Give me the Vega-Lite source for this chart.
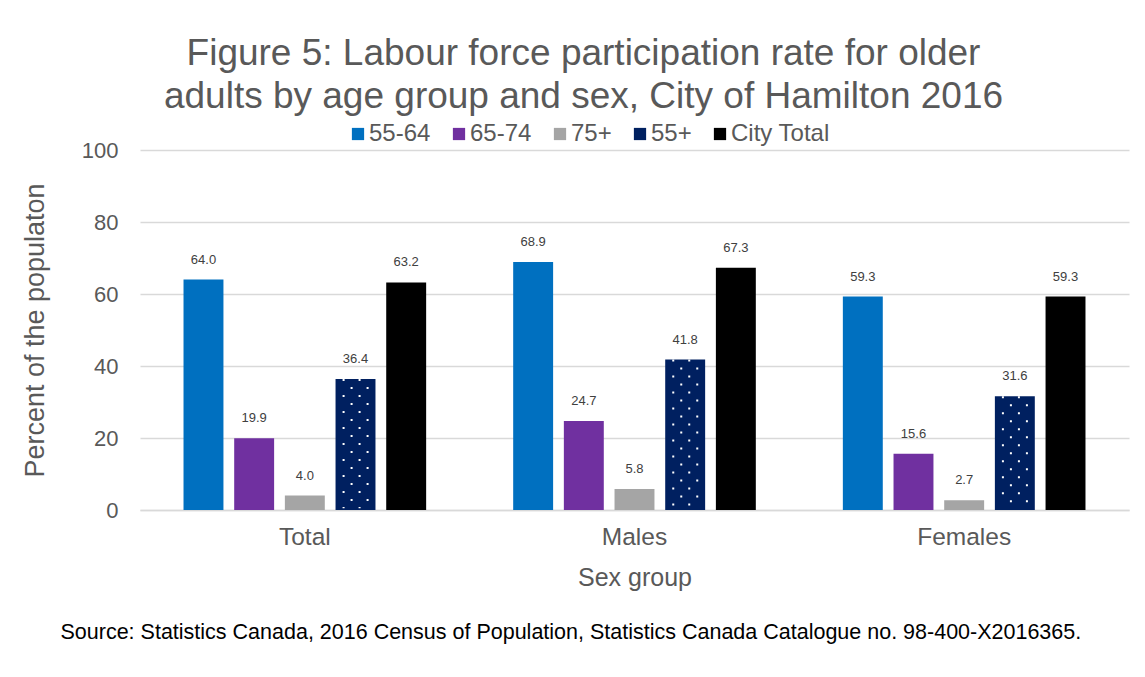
{
  "$schema": "https://vega.github.io/schema/vega-lite/v6.json",
  "width": 989,
  "height": 360,
  "autosize": {"type": "none"},
  "padding": {"left": 140, "top": 150, "right": 16, "bottom": 167},
  "background": "white",
  "config": {
    "font": "Liberation Sans",
    "view": {"stroke": null},
    "axis": {"labelFont": "Liberation Sans", "titleFont": "Liberation Sans", "labelColor": "#595959", "titleColor": "#595959", "titleFontWeight": "normal"}
  },
  "title": {
    "text": ["Figure 5: Labour force participation rate for older", "adults by age group and sex, City of Hamilton 2016"],
    "fontSize": 37,
    "font": "Liberation Sans",
    "fontWeight": "normal",
    "color": "#595959",
    "lineHeight": 43,
    "anchor": "middle",
    "dx": -51,
    "offset": 6
  },
  "data": {
    "values": [
      {"group": "Total", "age": "55-64", "value": 64.0},
      {"group": "Total", "age": "65-74", "value": 19.9},
      {"group": "Total", "age": "75+", "value": 4.0},
      {"group": "Total", "age": "55+", "value": 36.4},
      {"group": "Total", "age": "City Total", "value": 63.2},
      {"group": "Males", "age": "55-64", "value": 68.9},
      {"group": "Males", "age": "65-74", "value": 24.7},
      {"group": "Males", "age": "75+", "value": 5.8},
      {"group": "Males", "age": "55+", "value": 41.8},
      {"group": "Males", "age": "City Total", "value": 67.3},
      {"group": "Females", "age": "55-64", "value": 59.3},
      {"group": "Females", "age": "65-74", "value": 15.6},
      {"group": "Females", "age": "75+", "value": 2.7},
      {"group": "Females", "age": "55+", "value": 31.6},
      {"group": "Females", "age": "City Total", "value": 59.3}
    ]
  },
  "resolve": {"axis": {"x": "independent"}},
  "layer": [
    {
      "mark": {"type": "bar"},
      "encoding": {
        "x": {
          "field": "group", "type": "nominal", "sort": ["Total", "Males", "Females"],
          "scale": {"paddingInner": 0.264, "paddingOuter": 0.132},
          "axis": {"orient": "bottom", "title": "Sex group", "titleFontSize": 25, "titlePadding": 17, "labelFontSize": 24.5, "labelPadding": 15, "labelAngle": 0, "ticks": false, "domainColor": "#d9d9d9", "domainWidth": 1.5}
        },
        "xOffset": {
          "field": "age", "type": "nominal", "sort": ["55-64", "65-74", "75+", "55+", "City Total"],
          "scale": {"paddingInner": 0.212, "paddingOuter": 0}
        },
        "y": {
          "field": "value", "type": "quantitative",
          "scale": {"domain": [0, 100], "nice": false},
          "axis": {"title": "Percent of the populaton", "titleFontSize": 27, "titlePadding": 32, "values": [0, 20, 40, 60, 80, 100], "labelFontSize": 22, "labelPadding": 22, "ticks": false, "domain": false, "gridColor": "#d9d9d9", "gridWidth": 1.5}
        },
        "color": {
          "field": "age", "type": "nominal",
          "scale": {"domain": ["55-64", "65-74", "75+", "55+", "City Total"], "range": ["#0070C0", "#7030A0", "#A5A5A5", "#002060", "#000000"]},
          "legend": {"title": null, "orient": "none", "direction": "horizontal", "legendX": 206, "legendY": -28, "symbolType": "square", "symbolSize": 150, "symbolStrokeWidth": 0, "labelFontSize": 24, "labelColor": "#595959", "labelFont": "Liberation Sans", "columnPadding": 16, "labelOffset": -1}
        }
      }
    },
    {
      "transform": [{"filter": "datum.age === '55+'"}],
      "mark": {"type": "rule", "color": "white", "strokeWidth": 2, "strokeDash": [2, 14], "xOffset": 38.75, "strokeDashOffset": 0},
      "encoding": {
        "x": {"field": "group", "type": "nominal", "sort": ["Total", "Males", "Females"], "axis": null},
        "y": {"field": "value", "type": "quantitative", "title": "Percent of the populaton"},
        "y2": {"datum": 0.5}
      }
    },
    {
      "transform": [{"filter": "datum.age === '55+'"}],
      "mark": {"type": "rule", "color": "white", "strokeWidth": 2, "strokeDash": [2, 14], "xOffset": 46.75, "strokeDashOffset": 8},
      "encoding": {
        "x": {"field": "group", "type": "nominal", "sort": ["Total", "Males", "Females"], "axis": null},
        "y": {"field": "value", "type": "quantitative", "title": "Percent of the populaton"},
        "y2": {"datum": 0.5}
      }
    },
    {
      "transform": [{"filter": "datum.age === '55+'"}],
      "mark": {"type": "rule", "color": "white", "strokeWidth": 2, "strokeDash": [2, 14], "xOffset": 54.75, "strokeDashOffset": 0},
      "encoding": {
        "x": {"field": "group", "type": "nominal", "sort": ["Total", "Males", "Females"], "axis": null},
        "y": {"field": "value", "type": "quantitative", "title": "Percent of the populaton"},
        "y2": {"datum": 0.5}
      }
    },
    {
      "transform": [{"filter": "datum.age === '55+'"}],
      "mark": {"type": "rule", "color": "white", "strokeWidth": 2, "strokeDash": [2, 14], "xOffset": 62.75, "strokeDashOffset": 8},
      "encoding": {
        "x": {"field": "group", "type": "nominal", "sort": ["Total", "Males", "Females"], "axis": null},
        "y": {"field": "value", "type": "quantitative", "title": "Percent of the populaton"},
        "y2": {"datum": 0.5}
      }
    },
    {
      "mark": {"type": "text", "baseline": "bottom", "dy": -13, "fontSize": 13, "color": "#404040", "font": "Liberation Sans"},
      "encoding": {
        "x": {
          "field": "group", "type": "nominal", "sort": ["Total", "Males", "Females"],
          "axis": {"orient": "bottom", "title": "Source: Statistics Canada, 2016 Census of Population, Statistics Canada Catalogue no. 98-400-X2016365.", "titleFontSize": 21.5, "titleColor": "#000000", "titleAnchor": "start", "titleAlign": "left", "titleX": -80, "titleY": 122, "titleBaseline": "middle", "labels": false, "ticks": false, "domain": false, "grid": false}
        },
        "xOffset": {"field": "age", "type": "nominal", "sort": ["55-64", "65-74", "75+", "55+", "City Total"]},
        "y": {"field": "value", "type": "quantitative", "title": "Percent of the populaton"},
        "text": {"field": "value", "type": "quantitative", "format": ".1f"}
      }
    }
  ]
}
